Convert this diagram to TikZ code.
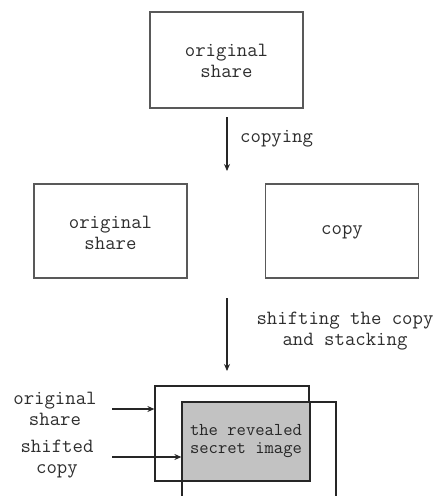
\documentclass[tikz,border=0pt]{standalone}
\usepackage{fontspec}
\setmonofont{Latin Modern Mono}
\usetikzlibrary{arrows.meta,calc}
\tikzset{
  lbl/.style={font=\ttfamily\fontsize{20.2}{21}\selectfont, text=black!82, align=center, inner sep=0pt},
  smalllbl/.style={font=\ttfamily\fontsize{18.1}{18.5}\selectfont, text=black!85, align=center, inner sep=0pt},
  sharebox/.style={draw=black!65, line width=1.8pt, rectangle, inner sep=0pt},
  thinbox/.style={draw=black!85, line width=1.2pt, rectangle, inner sep=0pt},
  flow/.style={draw=black!85, line width=1.2pt, -{Stealth[length=7pt,width=6pt]}},
}
\begin{document}
\begin{tikzpicture}[x=1pt,y=-1pt]
\useasboundingbox (0,0) rectangle (437,496);
\clip (0,0) rectangle (437,496);

% first stage: the original share
\node[sharebox, minimum width=153pt, minimum height=96pt] (top) at (226.5,60) {};
\node[lbl] (toptxt) at (226.5,60.5) {original\\share};

% copying step
\coordinate (c1s) at (227,117);
\coordinate (c1e) at (227,171);
\draw[flow] (c1s) -- (c1e);
\node[lbl, anchor=west] (copying) at (240,139) {copying};

% second stage: original and its copy
\node[sharebox, minimum width=153pt, minimum height=94pt] (orig2) at (110.5,231) {};
\node[lbl] (orig2txt) at (110.5,232.5) {original\\share};
\node[sharebox, minimum width=153pt, minimum height=94pt] (copy2) at (342,231) {};
\node[lbl] (copy2txt) at (342,232) {copy};

% shifting step
\coordinate (c2s) at (227,298);
\coordinate (c2e) at (227,371);
\draw[flow] (c2s) -- (c2e);
\node[lbl] (shifting) at (345,331.5) {shifting the copy\\and stacking};

% third stage: stacked shares
\node[thinbox, minimum width=154pt, minimum height=95pt] (orig3) at (232,433.5) {};
\node[thinbox, minimum width=154pt, minimum height=120pt] (shift3) at (259,462) {};
\path[fill=black!24, draw=black!85, line width=2pt] (182,402) rectangle (310,481);
\node[smalllbl] (revealed) at (246,441) {the revealed\\secret image};

% side labels
\node[lbl] (lblorig) at (55,409) {original\\share};
\node[lbl] (lblshift) at (57,459) {shifted\\copy};
\coordinate (a1) at (112,409);
\coordinate (a2) at (112,457);
\draw[flow] (a1) -- (a1 -| orig3.west);
\draw[flow] (a2) -- (a2 -| shift3.west);
\end{tikzpicture}
\end{document}
